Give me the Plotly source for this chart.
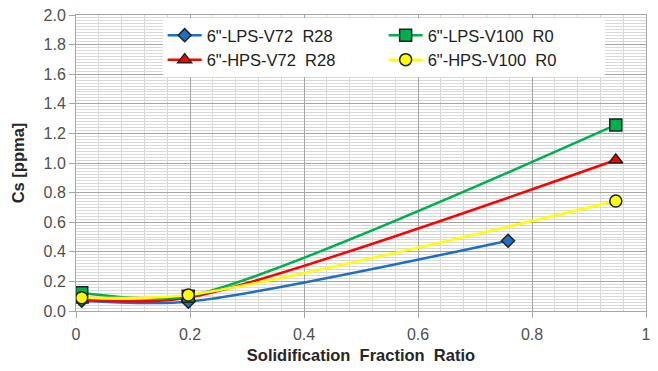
import plotly.graph_objects as go

lps_v72_x = [0.01, 0.197, 0.758]
lps_v72_y = [0.07, 0.063, 0.475]
hps_v72_x = [0.01, 0.197, 0.947]
hps_v72_y = [0.075, 0.09, 1.02]
lps_v100_x = [0.01, 0.197, 0.947]
lps_v100_y = [0.124, 0.10, 1.257]
hps_v100_x = [0.01, 0.197, 0.947]
hps_v100_y = [0.09, 0.108, 0.743]

names = ["6\"-LPS-V72\u00a0\u00a0R28", "6\"-HPS-V72\u00a0\u00a0R28",
         "6\"-LPS-V100\u00a0\u00a0R0", "6\"-HPS-V100\u00a0\u00a0R0"]
x_tickvals = [0, 0.2, 0.4, 0.6, 0.8, 1.0]
x_ticktext = ["0", "0.2", "0.4", "0.6", "0.8", "1"]

FONT = "Liberation Sans, Arial, sans-serif"
fig = go.Figure()

series = [
    (lps_v72_x, lps_v72_y, names[0], "#1F6FC0", "diamond", 10, 1),
    (hps_v72_x, hps_v72_y, names[1], "#FF0000", "triangle-up", 12, 3),
    (lps_v100_x, lps_v100_y, names[2], "#00B050", "square", 12, 2),
    (hps_v100_x, hps_v100_y, names[3], "#FFFF00", "circle", 12, 4),
]
for xs, ys, nm, col, sym, sz, rank in series:
    fig.add_trace(go.Scatter(
        x=xs, y=ys, name=nm, mode="lines+markers",
        line=dict(color=col, width=2.5, shape="spline", smoothing=0.75),
        marker=dict(symbol=sym, size=sz, color=col, line=dict(color="#202020", width=1.5)),
        legendrank=rank,
    ))

fig.update_layout(
    width=658, height=371,
    margin=dict(l=76, r=12, t=15, b=60, autoexpand=False),
    paper_bgcolor="white", plot_bgcolor="white",
    font=dict(family=FONT, size=16, color="#505050"),
    legend=dict(
        orientation="h", x=0.152, y=0.99, xanchor="left", yanchor="top",
        bgcolor="white", borderwidth=0, entrywidth=172, entrywidthmode="pixels",
        font=dict(family=FONT, size=16.5, color="#202020"),
        traceorder="normal", tracegroupgap=0, itemwidth=34,
    ),
    xaxis=dict(
        range=[0, 1], tickvals=x_tickvals, ticktext=x_ticktext, automargin=False,
        showgrid=True, gridcolor="#A6A6A6", gridwidth=1,
        minor=dict(dtick=0.04, showgrid=True, gridcolor="#D9D9D9", gridwidth=1),
        showline=True, linecolor="#A6A6A6", mirror=True,
        ticks="outside", ticklen=6, tickcolor="#A6A6A6", ticklabelstandoff=3,
        zeroline=False,
        title=dict(text="Solidification\u00a0\u00a0Fraction\u00a0\u00a0Ratio",
                   font=dict(family=FONT, size=16.5, color="#262626", weight="bold"), standoff=7),
    ),
    yaxis=dict(
        range=[0, 2], dtick=0.2, tickformat=".1f", automargin=False,
        showgrid=True, gridcolor="#A6A6A6", gridwidth=1,
        minor=dict(dtick=0.02, showgrid=True, gridcolor="#D9D9D9", gridwidth=1),
        showline=True, linecolor="#A6A6A6", mirror=True,
        ticks="outside", ticklen=6, tickcolor="#A6A6A6",
        zeroline=False,
        title=dict(text="Cs [ppma]",
                   font=dict(family=FONT, size=16.5, color="#262626", weight="bold"), standoff=14),
    ),
)

fig.write_html("out.html")
